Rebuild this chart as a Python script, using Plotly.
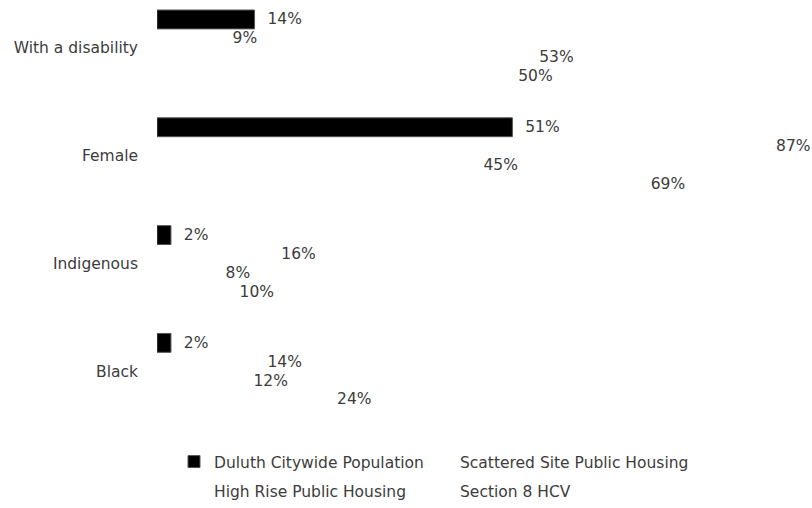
import plotly.graph_objects as go

# Share of each group (percent) by housing population
categories = ["With a disability", "Female", "Indigenous", "Black"]
series_names = [
    "Duluth Citywide Population",
    "Scattered Site Public Housing",
    "High Rise Public Housing",
    "Section 8 HCV",
]
duluth_citywide = [14, 51, 2, 2]
scattered_site = [9, 87, 16, 14]
high_rise = [53, 45, 8, 12]
section_8_hcv = [50, 69, 10, 24]

series_values = [duluth_citywide, scattered_site, high_rise, section_8_hcv]
fill_colors = ["#000000", "rgba(255,255,255,0)", "rgba(255,255,255,0)",
               "rgba(255,255,255,0)"]
line_widths = [1, 0, 0, 0]
# legend columns: left column holds series 1 and 3, right column series 2 and 4
legend_ids = ["legend", "legend2", "legend", "legend2"]

FONT = "DejaVu Sans"
TEXT_COLOR = "#3c3c3c"
FONT_SIZE = 15.5

fig = go.Figure()
for name, vals, fc, lw, lg in zip(series_names, series_values, fill_colors,
                                  line_widths, legend_ids):
    fig.add_trace(
        go.Bar(
            name=name,
            y=categories,
            x=vals,
            orientation="h",
            marker=dict(color=fc, line=dict(color="#555555", width=lw)),
            text=["\u00a0\u00a0%d%%" % v for v in vals],
            textposition="outside",
            constraintext="none",
            cliponaxis=False,
            outsidetextfont=dict(family=FONT, size=FONT_SIZE, color=TEXT_COLOR),
            hoverinfo="skip",
            legend=lg,
            legendgroup=name,
        )
    )

legend_common = dict(
    orientation="v",
    xanchor="left",
    y=-0.040,
    yanchor="top",
    tracegroupgap=6,
    font=dict(family=FONT, size=FONT_SIZE, color=TEXT_COLOR),
    traceorder="grouped",
    bgcolor="rgba(0,0,0,0)",
)

fig.update_layout(
    width=812,
    height=508,
    margin=dict(l=157, r=0, t=0, b=78),
    paper_bgcolor="white",
    plot_bgcolor="white",
    barmode="group",
    bargap=0.30,
    bargroupgap=0,
    font=dict(family=FONT, size=FONT_SIZE, color=TEXT_COLOR),
    xaxis=dict(
        range=[0, 94],
        visible=False,
        showgrid=False,
        zeroline=False,
    ),
    yaxis=dict(
        type="category",
        categoryorder="array",
        categoryarray=categories,
        range=[3.527, -0.443],
        showgrid=False,
        zeroline=False,
        showline=False,
        ticks="",
        ticklabelstandoff=18,
        tickfont=dict(family=FONT, size=FONT_SIZE, color=TEXT_COLOR),
    ),
    legend=dict(x=(174 - 157) / 655, **legend_common),
    legend2=dict(x=(420 - 157) / 655, **legend_common),
    showlegend=True,
)

fig.write_html("out.html")
